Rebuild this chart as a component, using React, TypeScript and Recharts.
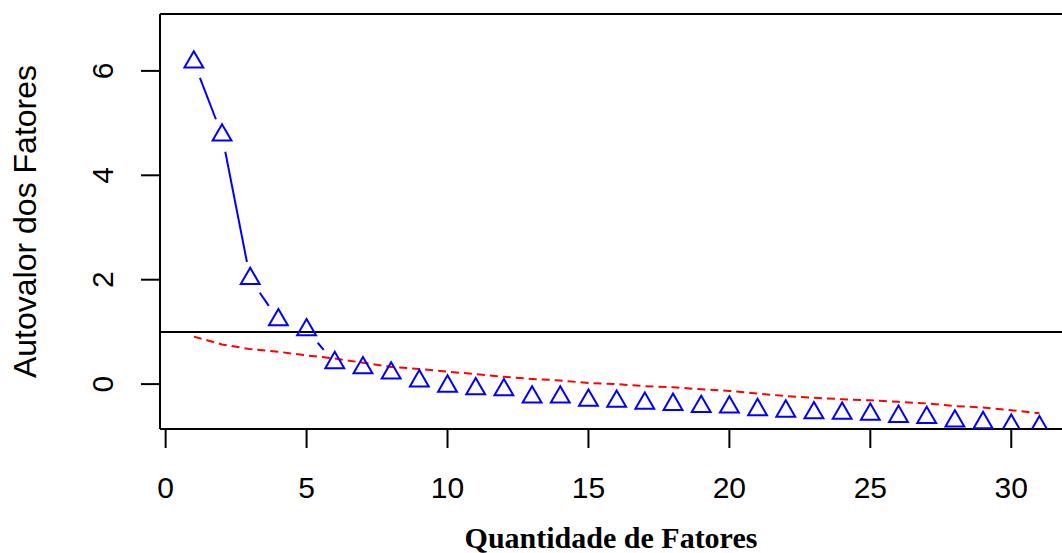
import { LineChart, Line, XAxis, YAxis, ReferenceLine } from 'recharts';

// scree plot: eigenvalues vs parallel analysis
const fatores = [1, 2, 3, 4, 5, 6, 7, 8, 9, 10, 11, 12, 13, 14, 15, 16, 17, 18, 19, 20, 21, 22, 23, 24, 25, 26, 27, 28, 29, 30, 31];
const autovalores = [6.17, 4.77, 2.02, 1.23, 1.04, 0.41, 0.31, 0.21, 0.06, -0.04, -0.09, -0.11, -0.25, -0.25, -0.31, -0.33, -0.37, -0.39, -0.43, -0.44, -0.49, -0.52, -0.55, -0.56, -0.58, -0.62, -0.64, -0.71, -0.74, -0.79, -0.82];
const paralelo = [0.91, 0.76, 0.67, 0.62, 0.55, 0.49, 0.41, 0.33, 0.29, 0.24, 0.19, 0.14, 0.1, 0.07, 0.02, 0.0, -0.04, -0.06, -0.1, -0.13, -0.18, -0.23, -0.26, -0.29, -0.31, -0.34, -0.37, -0.42, -0.45, -0.5, -0.56];
const xTicks = [0, 5, 10, 15, 20, 25, 30];
const yTicks = [0, 2, 4, 6];
const kaiser = 1;

const xDomain = [-0.2, 31.8];
const yDomain = [-0.86, 7.09];

const data = fatores.map((f, i) => ({ fator: f, autovalor: autovalores[i], paralelo: paralelo[i] }));

const SANS = '"Liberation Sans", Arial, sans-serif';
const SERIF = '"Liberation Serif", "Times New Roman", serif';
const BLUE = '#0000FF';
const RED = '#FF0000';

// R type="b": segments between points, with a gap around each point
const pts: { x: number; y: number }[] = [];
const GAP = 17;

const TriangleDot = (props: any) => {
  const { cx, cy, index } = props;
  pts[index] = { x: cx, y: cy };
  let seg = null;
  const prev = index > 0 ? pts[index - 1] : null;
  if (prev) {
    const dx = cx - prev.x;
    const dy = cy - prev.y;
    const len = Math.sqrt(dx * dx + dy * dy);
    if (len > GAP * 2) {
      const ux = dx / len;
      const uy = dy / len;
      seg = (
        <line
          x1={prev.x + ux * GAP}
          y1={prev.y + uy * GAP}
          x2={cx - ux * GAP}
          y2={cy - uy * GAP}
          stroke={BLUE}
          strokeWidth={2}
        />
      );
    }
  }
  const r = 7;
  const d = `M${cx},${cy - r * 1.555} L${cx + r * 1.347},${cy + r * 0.778} L${cx - r * 1.347},${cy + r * 0.778} Z`;
  return (
    <g key={`tri-${index}`}>
      {seg}
      <path d={d} fill="none" stroke={BLUE} strokeWidth={2} />
    </g>
  );
};

const XTick = ({ x, y, payload }: any) => (
  <text x={x} y={y} dy="0.71em" textAnchor="middle" fontFamily={SANS} fontSize={30} fill="#000">
    {payload.value}
  </text>
);

const YTick = ({ x, y, payload }: any) => (
  <text x={x} y={y} transform={`rotate(-90, ${x}, ${y})`} textAnchor="middle" fontFamily={SANS} fontSize={30} fill="#000">
    {payload.value}
  </text>
);

const XTitle = ({ viewBox }: any) => (
  <text
    x={viewBox.x + viewBox.width / 2}
    y={viewBox.y + 119}
    textAnchor="middle"
    fontFamily={SERIF}
    fontWeight="bold"
    fontSize={30}
    fill="#000"
  >
    Quantidade de Fatores
  </text>
);

const YTitle = ({ viewBox }: any) => {
  const x = 36;
  const y = viewBox.y + viewBox.height / 2;
  return (
    <text x={x} y={y} transform={`rotate(-90, ${x}, ${y})`} textAnchor="middle" fontFamily={SANS} fontSize={32} fill="#000">
      Autovalor dos Fatores
    </text>
  );
};

export default function App() {
  return (
    <div style={{ position: 'absolute', left: 0, top: 0, width: 1062, height: 553, overflow: 'hidden', background: '#fff' }}>
      <LineChart width={1062} height={553} data={data} margin={{ top: 14, right: 0, left: 0, bottom: 0 }}>
        <XAxis
          dataKey="fator"
          type="number"
          domain={xDomain}
          ticks={xTicks}
          allowDataOverflow
          height={124}
          tickSize={19}
          tickMargin={29}
          tick={<XTick />}
          axisLine={{ stroke: '#000', strokeWidth: 2 }}
          tickLine={{ stroke: '#000', strokeWidth: 2 }}
          label={<XTitle />}
        />
        <YAxis
          type="number"
          domain={yDomain}
          ticks={yTicks}
          allowDataOverflow
          width={160}
          tickSize={19}
          tickMargin={28}
          tick={<YTick />}
          axisLine={{ stroke: '#000', strokeWidth: 2 }}
          tickLine={{ stroke: '#000', strokeWidth: 2 }}
          label={<YTitle />}
        />
        <Line
          dataKey="autovalor"
          type="linear"
          stroke="none"
          strokeWidth={0}
          dot={TriangleDot}
          activeDot={false}
          isAnimationActive={false}
        />
        <Line
          dataKey="paralelo"
          type="linear"
          stroke={RED}
          strokeWidth={2}
          strokeDasharray="8 5"
          dot={false}
          activeDot={false}
          isAnimationActive={false}
        />
        <ReferenceLine y={kaiser} stroke="#000" strokeWidth={2} />
        <ReferenceLine y={yDomain[1]} stroke="#000" strokeWidth={2} />
      </LineChart>
    </div>
  );
}
